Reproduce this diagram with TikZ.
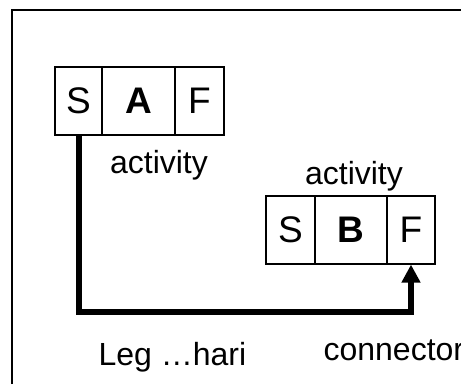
\documentclass[tikz,border=0pt]{standalone}
\usepackage{fontspec}
\setmainfont{Liberation Sans}
\usetikzlibrary{arrows.meta}
\begin{document}
\begin{tikzpicture}
  [x=1pt,y=-1pt,every node/.style={draw,line width=1.2pt,minimum height=68pt,inner sep=0pt,font=\fontsize{37}{42}\selectfont},
   lbl/.style={draw=none,minimum height=0pt,font=\fontsize{32}{38}\selectfont},
   conn/.style={line width=6pt,-{Triangle[width=18pt,length=18pt]}}]
  \useasboundingbox (0,0) rectangle (461,384);
  \draw[line width=1.5pt] (12,384) -- (12,10) -- (470,10);
  \node[minimum width=47pt] (sa) at (78.5,101) {S};
  \node[minimum width=73pt] (a) at (138.5,101) {\bfseries A};
  \node[minimum width=49pt] (fa) at (199.5,101) {F};
  \node[minimum width=49pt] (sb) at (290.5,230) {S};
  \node[minimum width=72pt] (b) at (351,230) {\bfseries B};
  \node[minimum width=48pt] (fb) at (411,230) {F};
  \node[lbl,anchor=base] (acta) at (159,173) {activity};
  \node[lbl,anchor=base] (actb) at (354,184) {activity};
  \node[lbl,anchor=base west] (leg) at (98,365) {Leg …hari};
  \node[lbl,anchor=base west] (con) at (323,360) {connector};
  \coordinate (low) at (80,312);
  \draw[conn] (sa.south) |- (low -| fb.south) -- (fb.south);
\end{tikzpicture}
\end{document}
